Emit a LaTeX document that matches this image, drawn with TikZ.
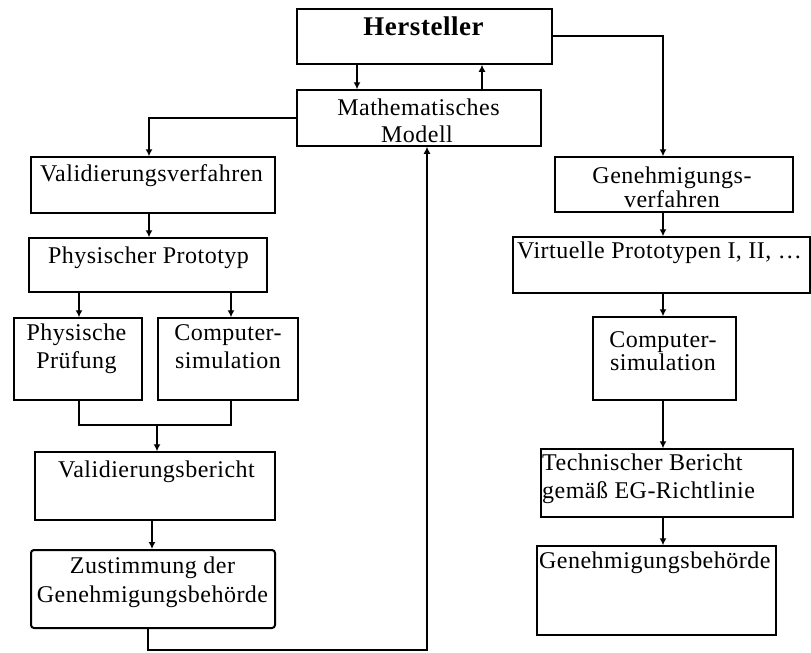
\documentclass[tikz,border=0pt]{standalone}
\usepackage{fontspec}
\setmainfont[LetterSpace=2]{Liberation Serif}
\usetikzlibrary{arrows.meta}
\begin{document}
\begin{tikzpicture}[x=1pt,y=-1pt,
 box/.style={draw=black, line width=1.5pt, inner sep=0pt},
 txt/.style={anchor=base, inner sep=0pt, font=\fontsize{24}{28}\selectfont},
 ltxt/.style={anchor=base west, inner sep=0pt, font=\fontsize{24}{28}\selectfont},
 conn/.style={line width=1.3pt},
 arr/.style={conn, -{Latex[length=7pt,width=7pt]}}]
\useasboundingbox (0,0) rectangle (811,653);
% boxes
\node[box, minimum width=255pt, minimum height=55pt] (H) at (424.5,36.5) {};
\node[box, minimum width=244pt, minimum height=56pt] (M) at (419,118) {};
\node[box, minimum width=244pt, minimum height=56pt] (Val) at (153,185) {};
\node[box, minimum width=238pt, minimum height=54pt] (PP) at (148,265) {};
\node[box, minimum width=128pt, minimum height=82pt] (PhP) at (78,359) {};
\node[box, minimum width=140pt, minimum height=82pt] (CSL) at (228,359) {};
\node[box, minimum width=240pt, minimum height=68pt] (VB) at (155,486) {};
\node[box, line width=2pt, rounded corners=3pt, minimum width=244pt, minimum height=78pt] (Z) at (153,589) {};
\node[box, minimum width=238pt, minimum height=55pt] (G) at (674,184.5) {};
\node[box, minimum width=297pt, minimum height=56pt] (VP) at (661.5,265) {};
\node[box, minimum width=143pt, minimum height=83pt] (CSR) at (664.5,358.5) {};
\node[box, minimum width=252pt, minimum height=68pt] (TB) at (667,483) {};
\node[box, minimum width=239pt, minimum height=89pt] (GB) at (656.5,590.5) {};
% texts
\node[anchor=base, inner sep=0pt, font=\fontsize{27}{30}\selectfont\bfseries] (tH) at (423.5,35) {Hersteller};
\node[txt] (tM1) at (418.5,115) {Mathematisches};
\node[txt] (tM2) at (417,142) {Modell};
\node[txt] (tVal) at (151.5,181) {Validierungsverfahren};
\node[txt] (tPP) at (148.5,263) {Physischer Prototyp};
\node[txt] (tPhP1) at (76.5,340) {Physische};
\node[txt] (tPhP2) at (76.5,368) {Prüfung};
\node[txt] (tCSL1) at (228,340) {Computer-};
\node[txt] (tCSL2) at (228,368) {simulation};
\node[txt] (tVB) at (156.5,477) {Validierungsbericht};
\node[txt] (tZ1) at (152.5,573) {Zustimmung der};
\node[txt] (tZ2) at (152.5,602) {Genehmigungsbehörde};
\node[txt] (tG1) at (672,183) {Genehmigungs-};
\node[txt] (tG2) at (672,207) {verfahren};
\node[ltxt] (tVP) at (517,258) {Virtuelle Prototypen I, II, …};
\node[txt] (tCSR1) at (663,347) {Computer-};
\node[txt] (tCSR2) at (663,370) {simulation};
\node[ltxt] (tTB1) at (542,470) {Technischer Bericht};
\node[ltxt] (tTB2) at (542,498) {gemäß EG-Richtlinie};
\node[ltxt] (tGB) at (539,568) {Genehmigungsbehörde};
% guide coordinates
\coordinate (xa) at (357,0);
\coordinate (xb) at (482,0);
\coordinate (l1) at (148,650);
\coordinate (l2) at (427,650);
\coordinate (r1) at (663,36);
\coordinate (m1) at (149,118);
\coordinate (xp1) at (79,425);
\coordinate (xp2) at (231,425);
\coordinate (xm) at (157,425);
\coordinate (xv) at (152,0);
% connectors
\draw[arr] (H.south -| xa) -- (M.north -| xa);
\draw[arr] (M.north -| xb) -- (H.south -| xb);
\draw[arr] (Z.south -| l1) -- (l1) -- (l2) -- (M.south -| l2);
\draw[arr] (H.east |- r1) -- (r1) -- (G.north -| r1);
\draw[arr] (M.west |- m1) -- (m1) -- (Val.north -| m1);
\draw[arr] (Val.south -| m1) -- (PP.north -| m1);
\draw[arr] (PP.south -| xp1) -- (PhP.north -| xp1);
\draw[arr] (PP.south -| xp2) -- (CSL.north -| xp2);
\draw[conn] (PhP.south -| xp1) -- (xp1) -- (xp2) -- (CSL.south -| xp2);
\draw[arr] (xm) -- (VB.north -| xm);
\draw[arr] (VB.south -| xv) -- (Z.north -| xv);
\draw[arr] (G.south -| r1) -- (VP.north -| r1);
\draw[arr] (VP.south -| r1) -- (CSR.north -| r1);
\draw[arr] (CSR.south -| r1) -- (TB.north -| r1);
\draw[arr] (TB.south -| r1) -- (GB.north -| r1);
\end{tikzpicture}
\end{document}
